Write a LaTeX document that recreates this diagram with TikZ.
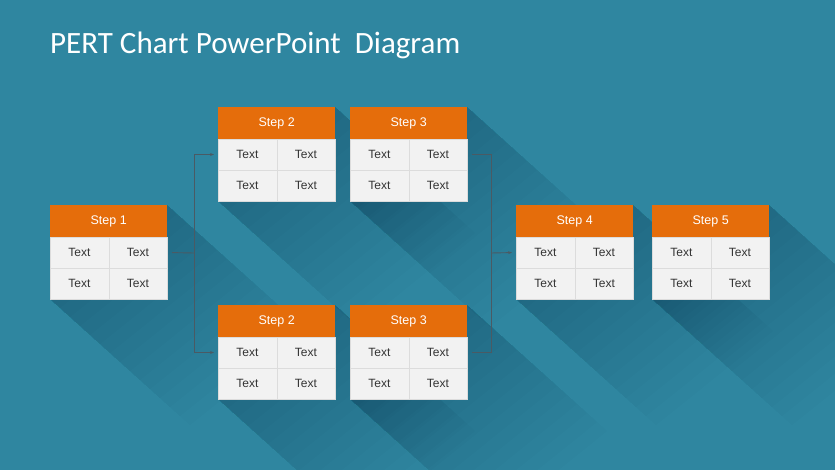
\documentclass[tikz,border=0pt]{standalone}
\usepackage{fontspec}
\setmainfont{Liberation Sans}
\newfontfamily\titlefont{Carlito}
\usetikzlibrary{arrows.meta}
\definecolor{bgc}{HTML}{2F86A0}
\definecolor{hdr}{HTML}{E56D0B}
\definecolor{cellc}{HTML}{F2F2F2}
\definecolor{gridc}{HTML}{DCDCDC}
\definecolor{txtc}{HTML}{333333}
\definecolor{linec}{HTML}{4A5A64}
\tikzset{
  header/.style={fill=hdr, text=white, font=\fontsize{12.5}{14}\selectfont, minimum width=117pt, minimum height=32pt, inner sep=0pt, anchor=north west},
  cell/.style={fill=cellc, draw=gridc, line width=0.4pt, text=txtc, font=\fontsize{12}{14}\selectfont, minimum width=58.5pt, minimum height=31pt, inner sep=0pt, anchor=north west},
  shadowfill/.style={fill=black, opacity=0.012},
  conn/.style={draw=linec, line width=0.9pt},
  arr/.style={conn, -{Stealth[length=4pt,width=3pt]}},
}
\newcommand{\pertshadow}[2]{%
  \foreach \L in {10,20,...,140}{%
    \fill[shadowfill] ({#1+117},{#2}) -- ({#1+117+\L},{#2+\L*0.9}) -- ({#1+\L},{#2+94+\L*0.9}) -- ({#1},{#2+94}) -- cycle;
  }%
}
\newcommand{\pertbox}[4]{%
  \node[header] (#1h) at ({#2},{#3}) {#4};
  \node[cell] (#1a) at ({#2},{#3+32}) {Text};
  \node[cell] (#1b) at ({#2+58.5},{#3+32}) {Text};
  \node[cell] (#1c) at ({#2},{#3+63}) {Text};
  \node[cell] (#1d) at ({#2+58.5},{#3+63}) {Text};
  \coordinate (#1L) at ({#2},{#3+47.5});
  \coordinate (#1R) at ({#2+117},{#3+47.5});
}
\begin{document}
\begin{tikzpicture}[x=1pt,y=-1pt]
\fill[bgc] (0,0) rectangle (835,470);
\useasboundingbox (0,0) rectangle (835,470);
\begin{scope}
\clip (0,0) rectangle (835,470);
\pertshadow{50}{205}
\pertshadow{218}{107}
\pertshadow{350}{107}
\pertshadow{218}{305}
\pertshadow{350}{305}
\pertshadow{516}{205}
\pertshadow{652}{205}
\end{scope}
\node[anchor=base west, text=white, font=\titlefont\fontsize{31}{36}\selectfont, inner sep=0pt] (title) at (50,54) {PERT Chart PowerPoint\ \ Diagram};
\pertbox{s1}{50}{205}{Step 1}
\pertbox{s2t}{218}{107}{Step 2}
\pertbox{s3t}{350}{107}{Step 3}
\pertbox{s2b}{218}{305}{Step 2}
\pertbox{s3b}{350}{305}{Step 3}
\pertbox{s4}{516}{205}{Step 4}
\pertbox{s5}{652}{205}{Step 5}
\coordinate (j1) at (194,253);
\coordinate (j2) at (491,253);
\draw[conn, shorten <=5pt] (s1R) -- (j1);
\draw[arr, shorten >=4pt] (j1) |- (s2tL);
\draw[arr, shorten >=4pt] (j1) |- (s2bL);
\draw[conn, shorten <=5pt] (s3tR) -| (j2);
\draw[conn, shorten <=5pt] (s3bR) -| (j2);
\draw[arr, shorten >=4pt] (j2) -- (s4L);
\end{tikzpicture}
\end{document}
